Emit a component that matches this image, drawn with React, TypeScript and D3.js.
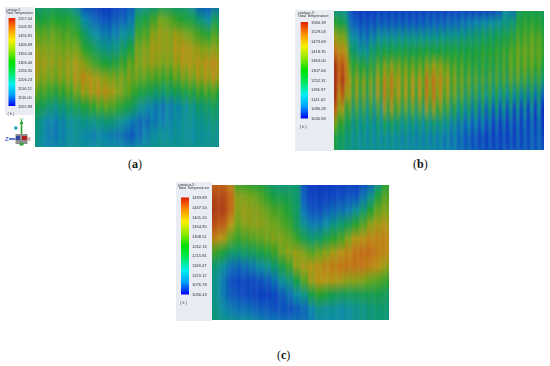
import * as d3 from 'd3';
import React from 'react';

// temperature (K) per column, top to bottom of the contour
const fieldA = [
  [1230,1290,1350,1390,1410,1390,1340,1280,1220,1210,1200],
  [1240,1300,1350,1380,1400,1380,1330,1250,1180,1170,1180],
  [1250,1310,1360,1380,1390,1370,1310,1220,1170,1160,1180],
  [1240,1300,1340,1370,1390,1380,1320,1240,1180,1170,1190],
  [1220,1300,1340,1370,1400,1390,1340,1260,1200,1190,1200],
  [1170,1260,1320,1370,1410,1420,1370,1280,1210,1200,1200],
  [1110,1180,1250,1310,1380,1440,1400,1300,1220,1180,1200],
  [1100,1150,1200,1270,1340,1420,1420,1320,1220,1170,1190],
  [1090,1130,1170,1230,1310,1400,1430,1340,1230,1180,1200],
  [1090,1120,1160,1210,1290,1380,1430,1350,1240,1170,1190],
  [1100,1130,1170,1220,1300,1370,1400,1330,1220,1160,1190],
  [1110,1140,1190,1250,1320,1370,1370,1300,1200,1150,1190],
  [1130,1160,1210,1290,1350,1370,1340,1270,1170,1130,1180],
  [1190,1270,1330,1370,1380,1360,1300,1220,1150,1150,1190],
  [1210,1290,1340,1380,1390,1350,1280,1190,1150,1170,1200],
  [1230,1330,1390,1410,1400,1340,1260,1170,1160,1190,1210],
  [1260,1370,1400,1400,1380,1330,1250,1160,1170,1200,1210],
  [1250,1350,1390,1390,1380,1330,1260,1170,1180,1190,1210],
  [1240,1320,1400,1420,1400,1350,1270,1180,1190,1200,1210],
  [1230,1300,1380,1430,1420,1370,1290,1200,1200,1200,1210],
  [1190,1280,1360,1410,1420,1380,1300,1220,1200,1190,1210],
  [1130,1230,1330,1390,1420,1400,1320,1240,1210,1200,1210],
  [1120,1190,1310,1380,1430,1410,1330,1250,1220,1200,1210],
  [1150,1260,1340,1390,1440,1420,1330,1260,1230,1210,1210],
];
const fieldB = [
  [1190,1300,1400,1480,1550,1570,1530,1460,1340,1270,1260],
  [1180,1260,1380,1450,1520,1540,1480,1360,1290,1240,1230],
  [1090,1130,1190,1260,1330,1370,1350,1290,1230,1210,1210],
  [1070,1100,1150,1210,1310,1360,1340,1280,1220,1200,1200],
  [1070,1100,1140,1200,1290,1350,1330,1270,1210,1190,1200],
  [1070,1100,1160,1240,1300,1340,1320,1260,1200,1190,1200],
  [1080,1110,1190,1270,1340,1380,1360,1280,1220,1190,1200],
  [1080,1110,1190,1280,1370,1430,1420,1340,1240,1190,1190],
  [1080,1110,1190,1280,1380,1440,1420,1350,1240,1190,1190],
  [1080,1110,1200,1280,1360,1390,1380,1310,1220,1180,1190],
  [1080,1110,1200,1280,1350,1380,1370,1300,1220,1180,1180],
  [1080,1110,1200,1280,1350,1390,1370,1300,1210,1170,1180],
  [1080,1110,1200,1290,1350,1400,1380,1300,1210,1170,1180],
  [1080,1120,1200,1290,1380,1450,1430,1340,1220,1170,1180],
  [1080,1120,1200,1290,1400,1460,1440,1350,1220,1170,1170],
  [1080,1120,1210,1290,1380,1420,1390,1310,1210,1160,1160],
  [1080,1130,1210,1290,1350,1380,1350,1280,1190,1150,1160],
  [1080,1130,1210,1290,1330,1350,1320,1250,1170,1140,1150],
  [1080,1140,1220,1290,1320,1330,1300,1230,1150,1120,1130],
  [1070,1150,1230,1290,1310,1320,1280,1210,1140,1110,1120],
  [1070,1160,1240,1290,1300,1310,1270,1200,1130,1100,1110],
  [1070,1170,1250,1300,1300,1300,1260,1180,1120,1090,1100],
  [1070,1180,1260,1300,1300,1300,1250,1170,1110,1090,1100],
  [1090,1190,1270,1310,1310,1300,1240,1160,1100,1090,1100],
  [1170,1210,1280,1320,1320,1300,1230,1150,1100,1090,1110],
  [1130,1230,1300,1340,1340,1310,1230,1140,1100,1090,1110],
  [1250,1300,1330,1360,1350,1310,1220,1130,1100,1100,1110],
  [1270,1310,1340,1360,1350,1300,1210,1120,1100,1100,1110],
  [1270,1310,1350,1360,1340,1290,1200,1120,1100,1110,1120],
  [1260,1300,1340,1350,1330,1280,1190,1120,1100,1110,1120],
];
const fieldC = [
  [1440,1470,1480,1460,1400,1280,1190,1170,1170,1180,1190],
  [1440,1470,1480,1450,1370,1250,1160,1130,1130,1150,1180],
  [1400,1440,1440,1380,1310,1210,1120,1090,1100,1130,1170],
  [1280,1340,1340,1320,1280,1200,1110,1080,1090,1120,1160],
  [1270,1330,1350,1340,1290,1210,1120,1080,1080,1120,1160],
  [1260,1320,1340,1340,1300,1220,1130,1080,1080,1110,1150],
  [1250,1300,1330,1340,1310,1240,1150,1090,1070,1100,1140],
  [1220,1270,1310,1330,1320,1260,1170,1100,1070,1100,1130],
  [1190,1240,1290,1320,1330,1280,1200,1120,1080,1090,1130],
  [1180,1230,1280,1300,1330,1320,1240,1160,1100,1090,1120],
  [1190,1220,1250,1280,1310,1340,1280,1190,1120,1090,1120],
  [1200,1200,1210,1220,1280,1350,1340,1240,1150,1100,1120],
  [1090,1100,1120,1160,1230,1330,1360,1300,1180,1110,1120],
  [1060,1070,1090,1130,1200,1300,1370,1350,1240,1140,1130],
  [1060,1070,1090,1130,1210,1320,1380,1380,1270,1170,1150],
  [1060,1070,1100,1150,1240,1340,1400,1370,1250,1160,1150],
  [1070,1080,1110,1180,1270,1360,1410,1370,1230,1160,1150],
  [1070,1080,1120,1200,1290,1380,1420,1360,1220,1150,1150],
  [1070,1090,1130,1230,1330,1400,1420,1340,1220,1160,1160],
  [1070,1090,1160,1270,1370,1420,1420,1340,1220,1170,1170],
  [1080,1120,1200,1300,1380,1430,1420,1330,1230,1180,1180],
  [1100,1170,1260,1340,1400,1430,1400,1310,1230,1190,1190],
  [1170,1250,1310,1360,1400,1410,1380,1300,1230,1200,1190],
  [1260,1300,1330,1370,1400,1400,1350,1280,1220,1200,1190],
];

// how far the two edges of a blade stripe differ, per row
const stripeA = [3,6,10,10,14,18,18,14,10,8,6];
const stripeB = [10,15,20,20,35,55,70,70,40,25,15];
const stripeC = [0,3,5,5,6,8,8,6,5,5,3];

const ticksA = ['1557.04','1506.92','1456.81','1406.69','1356.58','1306.46','1256.35','1206.23','1156.12','1106.00','1055.89'];
const ticksB = ['1584.38','1529.03','1473.69','1418.35','1363.00','1307.66','1252.31','1196.97','1141.62','1086.28','1030.94'];
const ticksC = ['1493.89','1447.54','1401.20','1354.85','1308.51','1262.16','1215.81','1169.47','1123.12','1076.78','1030.43'];

// contour palette is duller than the legend bar in the screenshots
const fieldStops = ['#0a1ec0', '#0c50c0', '#108ca8', '#109868', '#1ea030', '#70a41c', '#b89414', '#c46a14', '#a83214'];
const barStops = ['#0000f0', '#00a0ff', '#00f0f0', '#00e860', '#00e000', '#90e800', '#f8f000', '#ff9000', '#e02000'];

type PanelProps = {
  id: string;
  field: number[][];
  stripe: number[];
  ticks: string[];
  plot: number[]; // x0, y0, x1, y1
  box: number[];
  bar: number[];
  labelX: number;
  titleX: number;
  titleSize: number;
  tickSize: number;
  caption: string;
  captionX: number;
  captionY: number;
};

const Panel = ({ id, field, stripe, ticks, plot, box, bar, labelX, titleX, titleSize, tickSize, caption, captionX, captionY }: PanelProps) => {
  const [x0, y0, x1, y1] = plot;
  const tMax = +ticks[0];
  const tMin = +ticks[ticks.length - 1];

  const heat = d3.scaleLinear<string>()
    .domain(fieldStops.map((_, i) => tMin + (tMax - tMin) * i / (fieldStops.length - 1)))
    .range(fieldStops)
    .clamp(true);

  const x = d3.scaleBand<number>().domain(d3.range(field.length)).range([x0, x1]);
  const rowOffset = d3.scaleLinear().domain([0, stripe.length - 1]).range([0, 100]);
  const tickY = d3.scalePoint<string>().domain(ticks).range([bar[1], bar[3]]);

  return (
    <g>
      <rect x={box[0]} y={box[1]} width={box[2] - box[0]} height={box[3] - box[1]} fill="#e9ecf3" />
      <defs>
        <clipPath id={`clip-${id}`}><rect x={x0} y={y0} width={x1 - x0} height={y1 - y0} /></clipPath>
        <filter id={`soft-${id}`} x="-5%" y="-5%" width="110%" height="110%">
          <feGaussianBlur stdDeviation="1 0.6" />
        </filter>
        <filter id={`txt-${id}`} x="-5%" y="-5%" width="110%" height="110%">
          <feGaussianBlur stdDeviation="0.25" />
        </filter>
        <linearGradient id={`bar-${id}`} x1="0" y1="1" x2="0" y2="0">
          {barStops.map((c, i) => <stop key={i} offset={i / (barStops.length - 1)} stopColor={c} />)}
        </linearGradient>
        {field.flatMap((col, i) => [1, -1].map(sign => (
          <linearGradient key={`${i}${sign}`} id={`g-${id}-${i}-${sign}`} x1="0" y1="0" x2="0" y2="1">
            {col.map((v, r) => (
              <stop key={r} offset={`${rowOffset(r)}%`} stopColor={heat(v + sign * stripe[r])} />
            ))}
          </linearGradient>
        )))}
      </defs>
      <g clipPath={`url(#clip-${id})`}>
        <g filter={`url(#soft-${id})`}>
          {field.flatMap((_, i) => [1, -1].map(sign => {
            const w = x.bandwidth() / 2;
            const left = (x(i) as number) + (sign === 1 ? 0 : w);
            const first = i === 0 && sign === 1;
            const last = i === field.length - 1 && sign === -1;
            return (
              <rect
                key={`${i}${sign}`}
                x={first ? left - 4 : left}
                y={y0 - 3}
                width={w + (first || last ? 4.3 : 0.3)}
                height={y1 - y0 + 6}
                fill={`url(#g-${id}-${i}-${sign})`}
              />
            );
          }))}
        </g>
      </g>
      <rect x={bar[0]} y={bar[1]} width={bar[2] - bar[0]} height={bar[3] - bar[1]} fill={`url(#bar-${id})`} />
      <g fontFamily="Liberation Sans" fill="#333" filter={`url(#txt-${id})`}>
        <text x={titleX} y={box[1] + 3.6} fontSize={titleSize}>contour-5</text>
        <text x={titleX} y={box[1] + 7.4} fontSize={titleSize}>Total Temperature</text>
        {ticks.map(t => <text key={t} x={labelX} y={(tickY(t) as number) + 1.6} fontSize={tickSize}>{t}</text>)}
        <text x={bar[0] - 1} y={bar[3] + 9} fontSize={tickSize}>( k )</text>
      </g>
      <text x={captionX} y={captionY} fontFamily="Liberation Serif" fontSize="12" fill="#111">
        (<tspan fontWeight="bold">{caption}</tspan>)
      </text>
    </g>
  );
};

// orientation triad below the legend of panel (a)
const Triad = () => (
  <g fontFamily="Liberation Sans" fontSize="6">
    <rect x="15.5" y="134" width="12" height="10" fill="#8f8f8f" />
    <rect x="16" y="136" width="4" height="4" fill="#3048a0" />
    <rect x="22" y="136" width="5" height="4" fill="#b02020" />
    <line x1="21.5" y1="134" x2="21.5" y2="123" stroke="#2ca02c" strokeWidth="1.6" />
    <path d="M19.5 124 L21.5 120 L23.5 124 Z" fill="#2ca02c" />
    <rect x="19.5" y="143" width="4" height="2.5" fill="#2ca02c" />
    <line x1="15.5" y1="139" x2="9" y2="139" stroke="#2040c0" strokeWidth="1.4" />
    <circle cx="15.8" cy="128" r="1.8" fill="#20a0b0" />
    <text x="5" y="141" fill="#2040c0">Z</text>
    <text x="19.5" y="122" fill="#2ca02c">Y</text>
    <text x="27.5" y="141" fill="#c03030" fontSize="5">X</text>
  </g>
);

const App = () => (
  <svg width={550} height={366} style={{ position: 'absolute', left: 0, top: 0, background: '#fff' }}>
    <Panel
      id="a" field={fieldA} stripe={stripeA} ticks={ticksA}
      plot={[35, 8, 219, 147]} box={[5, 7, 34, 115]} bar={[8.5, 18, 15.3, 106]}
      labelX={18} titleX={6} titleSize={3.4} tickSize={3.9}
      caption="a" captionX={128} captionY={168}
    />
    <Triad />
    <Panel
      id="b" field={fieldB} stripe={stripeB} ticks={ticksB}
      plot={[334, 11, 544, 150]} box={[295, 10, 334, 151]} bar={[300.7, 22, 308, 118.5]}
      labelX={311} titleX={297.7} titleSize={3.9} tickSize={4.1}
      caption="b" captionX={413} captionY={168}
    />
    <Panel
      id="c" field={fieldC} stripe={stripeC} ticks={ticksC}
      plot={[212, 185, 389, 320]} box={[176, 182, 212, 321]} bar={[181, 197.5, 189, 294.5]}
      labelX={192} titleX={178} titleSize={3.9} tickSize={4.1}
      caption="c" captionX={277} captionY={359}
    />
  </svg>
);

export default App;
